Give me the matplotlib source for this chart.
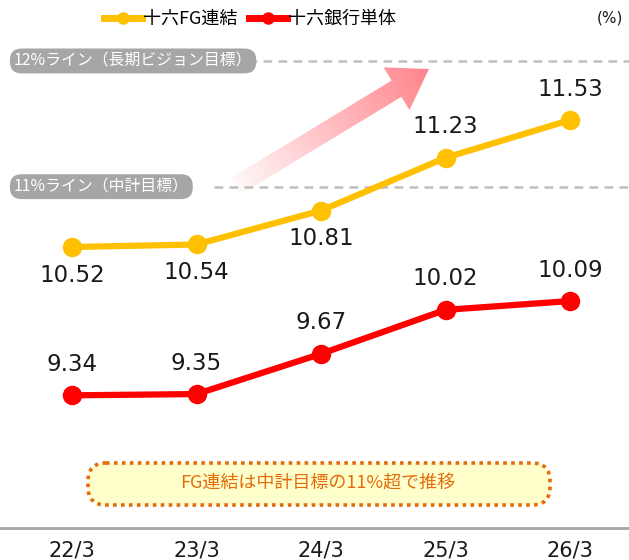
import numpy as np
import matplotlib
matplotlib.use("Agg")
import matplotlib.pyplot as plt
from matplotlib.lines import Line2D
from matplotlib.patches import Polygon, FancyBboxPatch

plt.rcParams['font.family'] = ['DejaVu Sans', 'Noto Sans CJK JP']

categories = ["22/3", "23/3", "24/3", "25/3", "26/3"]
fg_values = [10.52, 10.54, 10.81, 11.23, 11.53]
bank_values = [9.34, 9.35, 9.67, 10.02, 10.09]
fg_label_pos = ["below", "below", "below", "above", "above"]
series_names = ["十六FG連結", "十六銀行単体"]
ref_values = [12, 11]
ref_labels = ["12%ライン（長期ビジョン目標）", "11%ライン（中計目標）"]
callout_text = "FG連結は中計目標の11%超で推移"
unit_text = "(%)"

YELLOW = "#FFC000"
RED = "#FF0000"
ORANGE = "#E46C0A"
TXT = "#1a1a1a"
JP = ['Noto Sans CJK JP', 'DejaVu Sans']

fig = plt.figure(figsize=(6.29, 5.6), dpi=100)

# background overlay in pixel coords (for decorations)
ov = fig.add_axes([0, 0, 1, 1], zorder=0)
ov.set_xlim(0, 629)
ov.set_ylim(560, 0)
ov.axis("off")

ax = fig.add_axes([0, (560 - 528) / 560, 1, (528 - 30) / 560], zorder=1)
ax.patch.set_alpha(0)
x = np.arange(len(categories))
ax.set_xlim(-72 / 124.5, 4 + (629 - 570) / 124.5)
y_bottom = 10.52 - (528 - 247) / 125.7
y_top = 10.52 + (247 - 30) / 125.7
ax.set_ylim(y_bottom, y_top)

# reference lines
box_ends = [0.37, 0.34]
for val, lab, xe in zip(ref_values, ref_labels, box_ends):
    ax.axhline(val, xmin=xe, xmax=1, color="#BFBFBF", lw=1.8, ls=(0, (3.5, 2.5)), zorder=1)
    ax.text(0.022, val, lab, transform=ax.get_yaxis_transform(), ha="left", va="center",
            fontsize=11.4, color="white", zorder=3, family=JP,
            bbox=dict(boxstyle="round,pad=0.25,rounding_size=0.75", fc="#A6A6A6", ec="none"))

# series
ax.plot(x, fg_values, color=YELLOW, lw=4.5, marker="o", ms=13, zorder=4, solid_capstyle="round")
ax.plot(x, bank_values, color=RED, lw=4.5, marker="o", ms=13, zorder=4, solid_capstyle="round")

for xi, v, pos in zip(x, fg_values, fg_label_pos):
    if pos == "above":
        ax.annotate(f"{v:.2f}", (xi, v), xytext=(0, 14), textcoords="offset points",
                    ha="center", va="bottom", fontsize=16.5, color=TXT, zorder=5)
    else:
        ax.annotate(f"{v:.2f}", (xi, v), xytext=(0, -12), textcoords="offset points",
                    ha="center", va="top", fontsize=16.5, color=TXT, zorder=5)
for xi, v in zip(x, bank_values):
    ax.annotate(f"{v:.2f}", (xi, v), xytext=(0, 14), textcoords="offset points",
                ha="center", va="bottom", fontsize=16.5, color=TXT, zorder=5)

for s in ["top", "left", "right"]:
    ax.spines[s].set_visible(False)
ax.spines["bottom"].set_color("#A6A6A6")
ax.spines["bottom"].set_linewidth(2)
ax.set_yticks([])
ax.set_xticks(x)
ax.set_xticklabels(categories, fontsize=15, color=TXT)
ax.tick_params(axis="x", length=0, pad=9)

# gradient arrow (decorative)
tail = np.array([236.0, 186.0])
tip = np.array([429.0, 69.0])
d = tip - tail
L = np.hypot(*d)
u = d / L
n = np.array([u[1], -u[0]])  # normal
hw_shaft = 9.5
hw_head = 25.0
head_len = 38.0
base = tip - u * head_len
pts = [tail + n * hw_shaft, base + n * hw_shaft, base + n * hw_head, tip,
       base - n * hw_head, base - n * hw_shaft, tail - n * hw_shaft]
poly = Polygon(pts, closed=True, fc="none", ec="none")
ov.add_patch(poly)
xs = np.linspace(200, 460, 300)
ys = np.linspace(20, 220, 200)
XX, YY = np.meshgrid(xs, ys)
t = ((XX - tail[0]) * u[0] + (YY - tail[1]) * u[1]) / L
t = np.clip(t, 0, 1)
c0 = np.array([1.0, 0.97, 0.97])
c1 = np.array([1.0, 0.52, 0.55])
img = c0[None, None, :] * (1 - t[..., None]) + c1[None, None, :] * t[..., None]
im = ov.imshow(img, extent=(200, 460, 220, 20), origin="upper", zorder=1, aspect="auto")
im.set_clip_path(poly)
ov.set_xlim(0, 629)
ov.set_ylim(560, 0)

# callout box
cb = FancyBboxPatch((90, 465), 458, 38, boxstyle="round,pad=2,rounding_size=18",
                    fc="#FFFFCC", ec=ORANGE, lw=2.6, ls=(0, (1, 1.2)), zorder=2)
ov.add_patch(cb)
ov.text(318, 484, callout_text, ha="center", va="center", fontsize=13, color=ORANGE, zorder=3,
        family=JP)

# legend
handles = [Line2D([], [], color=YELLOW, lw=5, marker="o", ms=8),
           Line2D([], [], color=RED, lw=5, marker="o", ms=8)]
fig.legend(handles, series_names, loc="center", bbox_to_anchor=(250 / 629, 1 - 19 / 560),
           ncol=2, frameon=False, handlelength=2.1, handletextpad=0.1,
           columnspacing=0.6, prop={'family': JP, 'size': 13})
fig.text(610 / 629, 1 - 18 / 560, unit_text, ha="center", va="center", fontsize=11, color=TXT)

fig.savefig("out.png", dpi=100)
